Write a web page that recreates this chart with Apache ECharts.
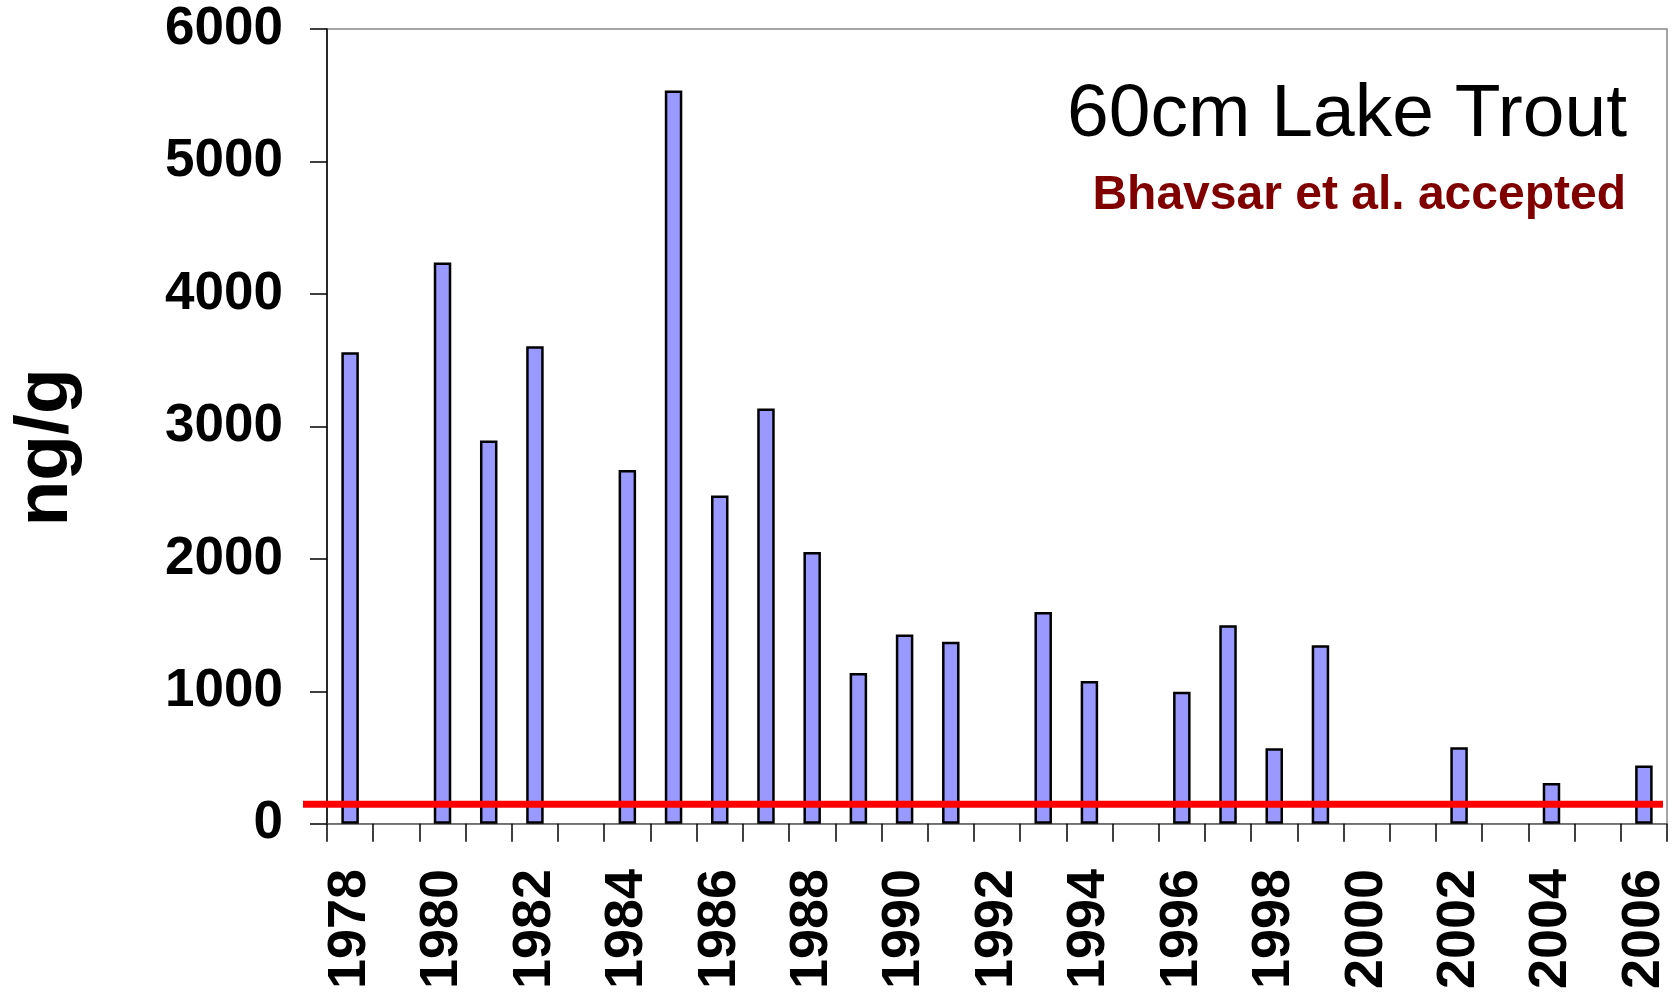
<!DOCTYPE html>
<html>
<head>
<meta charset="utf-8">
<script src="https://cdn.jsdelivr.net/npm/echarts@6/dist/echarts.min.js"></script>
<style>
    html, body { margin: 0; padding: 0; background: #fff; }
    #chart { width: 1675px; height: 992px; }
</style>
</head>
<body>
<div id="chart"></div>
<script>
// years on the x axis (every year gets a slot, labels on every other one)
const years = ['1978', '1979', '1980', '1981', '1982', '1983', '1984', '1985', '1986', '1987',
    '1988', '1989', '1990', '1991', '1992', '1993', '1994', '1995', '1996', '1997',
    '1998', '1999', '2000', '2001', '2002', '2003', '2004', '2005', '2006'];
// ng/g, null = no sample that year
const values = [3560, null, 4238, 2894, 3605, null, 2671, 5535, 2478, 3136,
    2052, 1138, 1430, 1374, null, 1600, 1078, null, 997, 1500,
    571, 1349, null, null, 578, null, 309, null, 440];
const guideline = 156;
const yTicks = [0, 6000, 1000];

const font = "'Liberation Sans', Arial, sans-serif";

const chart = echarts.init(document.getElementById('chart'));
const option = {
    backgroundColor: '#fff',
    animation: false,
    title: [{
        text: '60cm Lake Trout',
        right: 48,
        top: 78,
        padding: 0,
        textStyle: { fontFamily: font, fontSize: 75, fontWeight: 'normal', color: '#000', lineHeight: 75 }
    }, {
        text: 'Bhavsar et al. accepted',
        right: 49,
        top: 172,
        padding: 0,
        textStyle: { fontFamily: font, fontSize: 48, fontWeight: 'bold', color: '#800000', lineHeight: 48 }
    }],
    grid: [{
        left: 327, right: 8, top: 29, bottom: 167,
        show: true, borderColor: '#888', borderWidth: 1.5
    }, {
        // wider box for the guideline, it sticks out left of the axis
        left: 303, right: 12, top: 29, bottom: 167
    }],
    xAxis: [{
        type: 'category',
        data: years,
        gridIndex: 0,
        boundaryGap: true,
        axisLine: { lineStyle: { color: '#666', width: 1.5 } },
        axisTick: { show: true, interval: 0, length: 18, lineStyle: { color: '#000', width: 1.5 } },
        axisLabel: {
            interval: 1, rotate: 90, margin: 45,
            fontFamily: font, fontSize: 54, fontWeight: 'bold', color: '#000'
        },
        splitLine: { show: false }
    }, {
        type: 'value', gridIndex: 1, min: 0, max: 1, show: false
    }],
    yAxis: [{
        type: 'value',
        gridIndex: 0,
        min: yTicks[0], max: yTicks[1], interval: yTicks[2],
        name: 'ng/g',
        nameLocation: 'middle',
        nameRotate: 90,
        nameGap: 243,
        nameTextStyle: {
            fontFamily: font, fontSize: 75, fontWeight: 'bold', color: '#000',
            padding: [0, 42, 0, 0]
        },
        axisLine: { show: true, lineStyle: { color: '#000', width: 1.5 } },
        axisTick: { show: true, length: 17, lineStyle: { color: '#000', width: 1.5 } },
        axisLabel: {
            margin: 44, fontFamily: font, fontSize: 53, fontWeight: 'bold', color: '#000',
            formatter: v => String(v)
        },
        splitLine: { show: false }
    }, {
        type: 'value', gridIndex: 1, min: yTicks[0], max: yTicks[1], show: false
    }],
    series: [{
        type: 'bar',
        xAxisIndex: 0, yAxisIndex: 0,
        data: values,
        barWidth: 17.5,
        itemStyle: { color: '#9999ff', borderColor: '#000', borderWidth: 2.5 },
        z: 2
    }, {
        type: 'line',
        xAxisIndex: 1, yAxisIndex: 1,
        data: [[0, guideline], [1, guideline]],
        symbol: 'none',
        lineStyle: { color: '#ff0000', width: 7 },
        z: 5
    }]
};
chart.setOption(option);
</script>
</body>
</html>
